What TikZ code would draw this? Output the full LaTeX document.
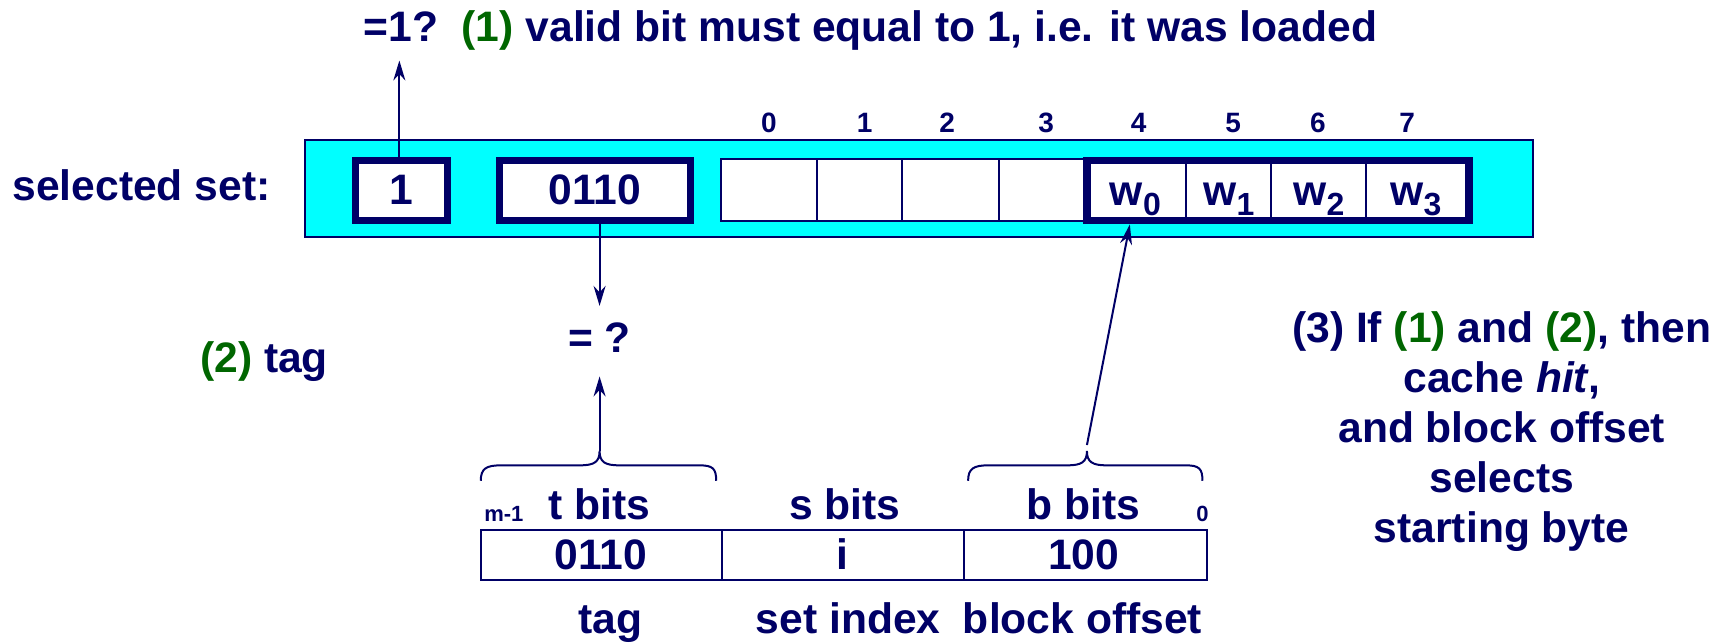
\documentclass[tikz,border=0pt]{standalone}
\usepackage{fontspec}
\setmainfont{Liberation Sans}
\usetikzlibrary{arrows.meta}
\definecolor{navy}{RGB}{0,0,102}
\definecolor{dgreen}{RGB}{0,102,0}
\definecolor{cyanbg}{RGB}{0,255,255}
\newcommand{\grn}[1]{{\color{dgreen}#1}}
\newcommand{\wsub}[1]{w{\fontsize{16}{16}\selectfont\raisebox{-5pt}{#1}}}
\begin{document}
\begin{tikzpicture}[x=0.55pt,y=-0.55pt,
  every node/.style={text=navy,font=\bfseries\fontsize{21.3}{25}\selectfont,inner sep=0pt},
  smalllbl/.style={font=\bfseries\fontsize{14}{16}\selectfont},
  tinylbl/.style={font=\bfseries\fontsize{11}{13}\selectfont},
  thincell/.style={draw=navy,line width=1pt,fill=white},
  thickbox/.style={draw=navy,line width=3.5pt},
  arr/.style={draw=navy,line width=1pt,-{Stealth[length=10pt,width=6pt]}},
  bracepath/.style={draw=navy,line width=1pt}]
\useasboundingbox (0,0) rectangle (1568,584);

% top line
\node[anchor=base west] (top1) at (330,38) {=1?~~\grn{(1)} valid bit must equal to 1, i.e. it was loaded};

% selected set
\node[anchor=base west] (sellbl) at (11,182) {selected set:};
\node[draw=navy,line width=1pt,fill=cyanbg,minimum width={1116*0.55pt},minimum height={88*0.55pt}] (sel) at (835,171) {};

% valid and tag boxes
\node[thickbox,fill=white,minimum width={84*0.55pt},minimum height={54*0.55pt}] (valid) at (365,173) {1};
\node[thickbox,fill=white,minimum width={174*0.55pt},minimum height={54*0.55pt}] (tag) at (541,173) {0110};

% data cells
\node[thincell,minimum width={88*0.55pt},minimum height={56*0.55pt}] (c0) at (699,172.5) {};
\node[thincell,minimum width={77*0.55pt},minimum height={56*0.55pt}] (c1) at (781.5,172.5) {};
\node[thincell,minimum width={88*0.55pt},minimum height={56*0.55pt}] (c2) at (864,172.5) {};
\node[thincell,minimum width={77*0.55pt},minimum height={56*0.55pt}] (c3) at (946.5,172.5) {};
\node[thincell,minimum width={87*0.55pt},minimum height={52*0.55pt}] (c4) at (1034.5,173) {};
\node[thincell,minimum width={77*0.55pt},minimum height={52*0.55pt}] (c5) at (1116.5,173) {};
\node[thincell,minimum width={87*0.55pt},minimum height={52*0.55pt}] (c6) at (1198.5,173) {};
\node[thincell,minimum width={91*0.55pt},minimum height={52*0.55pt}] (c7) at (1287.5,173) {};
\node[thickbox,minimum width={348*0.55pt},minimum height={54*0.55pt}] (blk) at (1162,173) {};

\node[anchor=base] (w0) at (1032,187) {\wsub{0}};
\node[anchor=base] (w1) at (1117,187) {\wsub{1}};
\node[anchor=base] (w2) at (1199,187) {\wsub{2}};
\node[anchor=base] (w3) at (1287,187) {\wsub{3}};

% byte numbers
\foreach \n/\x in {0/699,1/786,2/861,3/951,4/1035,5/1121,6/1198,7/1279}
  \node[smalllbl,anchor=base] (b\n) at (\x,120) {\n};

% tag comparison
\node[anchor=base] (eq) at (545,320) {= ?};
\node[anchor=base] (tagcmp) at (240,339) {\grn{(2)} tag};
\draw[arr] (tag.south -| eq.north) -- ([yshift=8pt]eq.north);
\draw[arr] (valid.north -| 363,0) -- (363,55);

% braces
\coordinate (ttip) at (545,410);
\coordinate (btip) at (988,410);
\draw[bracepath] (437,437) .. controls (437,426) and (442,423) .. (455,423) -- (527,423)
   .. controls (540,423) and (545,420) .. (ttip) .. controls (545,420) and (550,423) .. (563,423)
   -- (636,423) .. controls (648,423) and (651,426) .. (651,437);
\draw[bracepath] (880,437) .. controls (880,426) and (885,423) .. (898,423) -- (970,423)
   .. controls (983,423) and (988,420) .. (btip) .. controls (988,420) and (993,423) .. (1006,423)
   -- (1078,423) .. controls (1090,423) and (1093,426) .. (1093,437);
\draw[arr] (ttip) -- ([yshift=-12pt]eq.south);
\coordinate (w0in) at (1027,204);
\draw[arr] ([yshift=3pt]btip) -- (w0in);

% address
\node[tinylbl,anchor=base] (mlbl) at (458,474) {m-1};
\node[tinylbl,anchor=base] (zlbl) at (1093,474) {0};
\node[anchor=base] (tb) at (545,472) {t bits};
\node[anchor=base] (sb) at (768,472) {s bits};
\node[anchor=base] (bb) at (985,472) {b bits};
\node[thincell,minimum width={219*0.55pt},minimum height={45*0.55pt}] (a1) at (546.5,504.5) {};
\node[thincell,minimum width={220*0.55pt},minimum height={45*0.55pt}] (a2) at (766,504.5) {};
\node[thincell,minimum width={221*0.55pt},minimum height={45*0.55pt}] (a3) at (986.5,504.5) {};
\node[anchor=base] (a1t) at (546,518) {0110};
\node[anchor=base] (a2t) at (766,518) {i};
\node[anchor=base] (a3t) at (985,518) {100};
\node[anchor=base] (l1) at (555,576) {tag};
\node[anchor=base] (l2) at (771,576) {set index};
\node[anchor=base] (l3) at (984,576) {block offset};

% explanation
\node[anchor=base,align=center] (expl) at (1365,493) {(3) If \grn{(1)} and \grn{(2)}, then\\cache \textit{hit},\\and block offset\\selects\\starting byte};
\end{tikzpicture}
\end{document}
